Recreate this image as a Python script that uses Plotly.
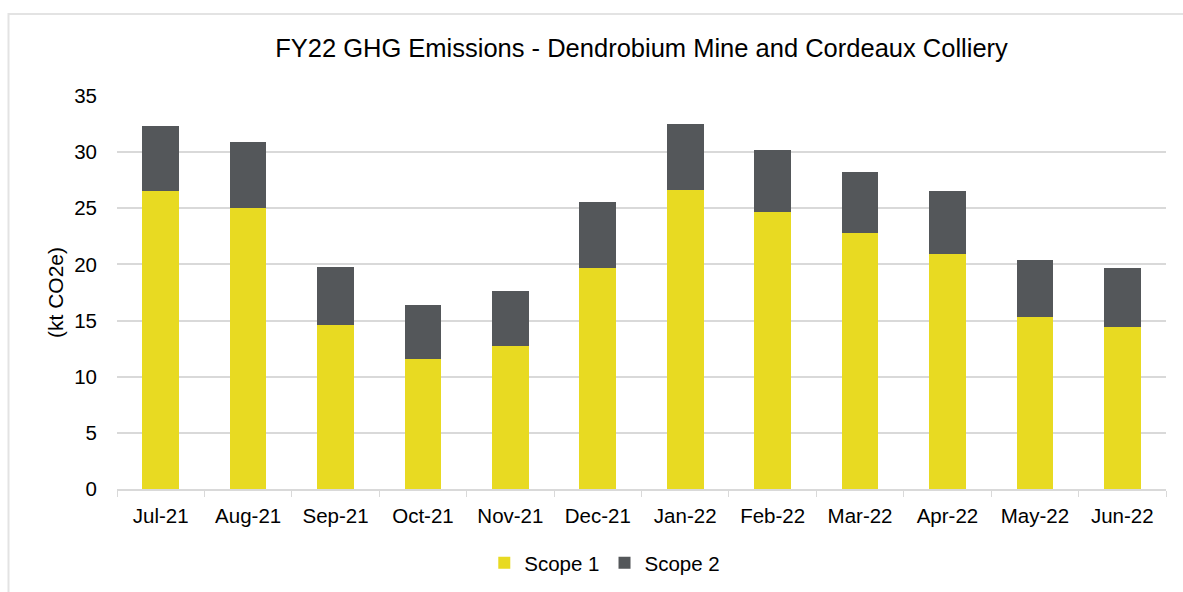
import plotly.graph_objects as go

months = ["Jul-21", "Aug-21", "Sep-21", "Oct-21", "Nov-21", "Dec-21",
          "Jan-22", "Feb-22", "Mar-22", "Apr-22", "May-22", "Jun-22"]
scope1 = [26.5, 25.0, 14.6, 11.6, 12.7, 19.7, 26.6, 24.7, 22.8, 20.9, 15.3, 14.4]
scope2 = [5.8, 5.9, 5.2, 4.8, 4.9, 5.9, 5.9, 5.5, 5.4, 5.6, 5.1, 5.3]

W, H = 1183, 592
L, R, T, B = 117, 17, 96, 103
pw, ph = W - L - R, H - T - B

fig = go.Figure()
fig.add_trace(go.Bar(x=months, y=scope1, name="Scope 1", marker_color="#E8DA22",
                     marker_line_width=0))
fig.add_trace(go.Bar(x=months, y=scope2, name="Scope 2", marker_color="#54575A",
                     marker_line_width=0))

font = "Liberation Sans, Arial, sans-serif"
fig.update_layout(
    width=W, height=H, barmode="stack", bargap=0.58,
    margin=dict(l=L, r=R, t=T, b=B, autoexpand=False),
    paper_bgcolor="white", plot_bgcolor="white",
    font=dict(family=font, size=20.5, color="#000000"),
    title=dict(text="FY22 GHG Emissions - Dendrobium Mine and Cordeaux Colliery",
               x=0.5, xref="paper", xanchor="center", y=1 - 48 / H, yanchor="middle",
               font=dict(size=25.5, family=font, color="#000000")),
    legend=dict(orientation="h", x=0.465, xanchor="center", y=(0 - 74) / ph,
                yanchor="middle", font=dict(size=20.5), traceorder="normal",
                itemwidth=30, tracegroupgap=0),
    xaxis=dict(showgrid=False, showline=True, linecolor="#D9D9D9", linewidth=1.5,
               ticks="outside", tickson="boundaries", ticklen=6, tickcolor="#D9D9D9",
               tickfont=dict(size=20.5), ticklabelstandoff=8),
    yaxis=dict(range=[0, 35], dtick=5, showgrid=True, gridcolor="#D9D9D9", gridwidth=1.5,
               zeroline=False, showline=False, ticks="", tickfont=dict(size=20.5),
               ticklabelstandoff=19,
               title=dict(text="(kt CO2e)", font=dict(size=21), standoff=4)),
    shapes=[dict(type="rect", xref="paper", yref="paper",
                 x0=(8.5 - L) / pw, x1=(W + 20 - L) / pw,
                 y0=-(H + 20 - T - ph) / ph - 1, y1=1 + (T - 14) / ph,
                 line=dict(color="#E3E3E3", width=2), layer="below")],
)

fig.write_html("out.html", config={"displayModeBar": False},
               post_script="document.body.style.margin='0';")
